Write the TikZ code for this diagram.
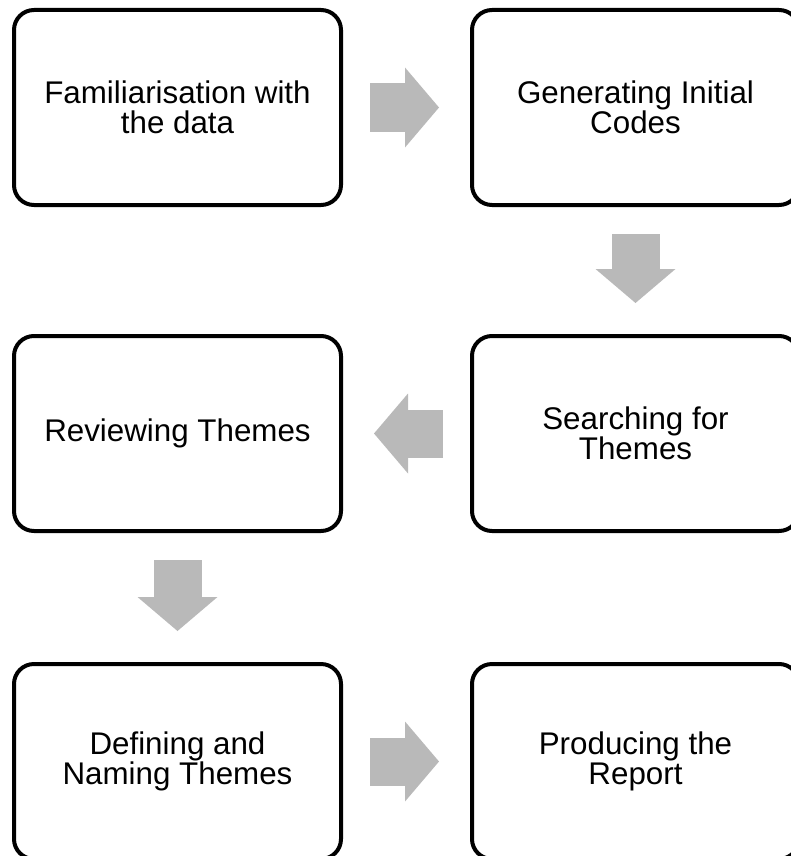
\documentclass[tikz,border=0pt]{standalone}
\usepackage{fontspec}
\setmainfont{Liberation Sans}
\usetikzlibrary{arrows.meta,calc}
\definecolor{arrowgray}{RGB}{185,185,185}
\newcommand{\arrowcolor}{arrowgray}
\newcommand{\boxwidth}{245.25pt}
\newcommand{\boxheight}{146.25pt}
\newcommand{\shaftwidth}{36pt}
\newcommand{\headwidth}{60pt}
\newcommand{\headlength}{25.5pt}

\begin{document}
\begin{tikzpicture}[x=0.75pt,y=-0.75pt]
\tikzset{stepbox/.style={draw, line width=3pt, rounded corners=15pt, minimum width=\boxwidth, minimum height=\boxheight, align=center, font=\fontsize{23.5}{22.5}\selectfont}}
\tikzset{blockarrow/.style={draw=\arrowcolor, line width=\shaftwidth, -{Triangle[length=\headlength, width=\headwidth, line width=0pt]}, shorten <=20.25pt, shorten >=23.25pt}}
\useasboundingbox (0,0) rectangle (791,856);
%row 1
\node[stepbox] (1) at (177.5, 107.5) {Familiarisation with\\the data};
\node[stepbox] (2) at (635.5, 107.5) {Generating Initial\\Codes};
%row 2
\node[stepbox] (3) at (635.5, 433.5) {Searching for\\Themes};
\node[stepbox] (4) at (177.5, 433.5) {Reviewing Themes};
%row 3
\node[stepbox] (5) at (177.5, 761.5) {Defining and\\Naming Themes};
\node[stepbox] (6) at (635.5, 761.5) {Producing the\\Report};
%arrows
\draw[blockarrow] (1) -- (2);
\draw[blockarrow] (2) -- (3);
\draw[blockarrow] (3) -- (4);
\draw[blockarrow] (4) -- (5);
\draw[blockarrow] (5) -- (6);
\end{tikzpicture}
\end{document}
